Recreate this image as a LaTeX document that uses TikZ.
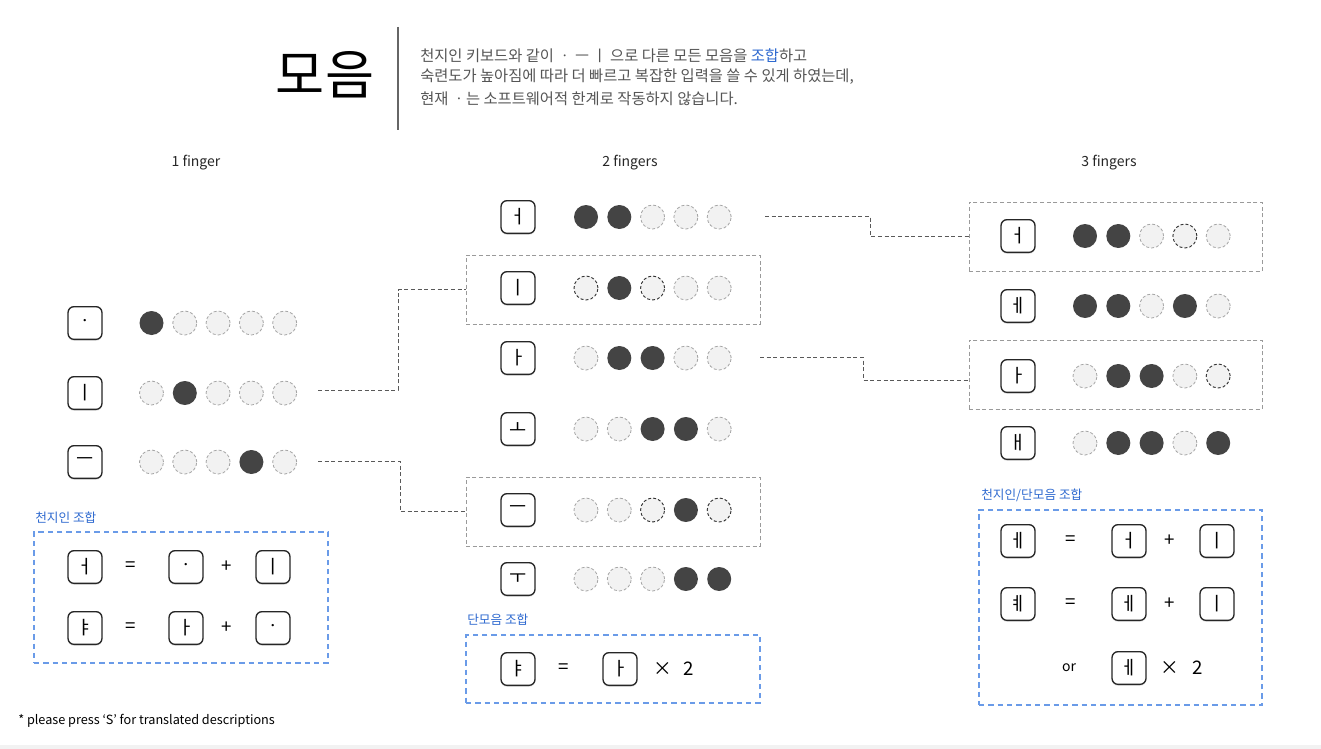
\documentclass[tikz,border=0pt]{standalone}
\usepackage{fontspec}
\setmainfont{Noto Sans CJK KR}
\usetikzlibrary{fit,shadows}
\definecolor{txtgray}{HTML}{555555}
\definecolor{kblue}{HTML}{2F6AD0}
\definecolor{bblue}{HTML}{6A9BE8}
\definecolor{dotdark}{HTML}{444444}
\definecolor{dotlight}{HTML}{F2F2F2}
\definecolor{dashgray}{HTML}{A5A5A5}
\definecolor{boxgray}{HTML}{9A9A9A}
\newcommand\fsz[1]{\fontsize{#1}{#1}\selectfont}
\newcommand\dotrow[4]{\foreach \s [count=\i] in {#4} {\node[dot\s] (#1-\i) at ({#2+(\i-1)*33.3},#3) {};}}
\tikzset{
  key/.style={draw=black!85, line width=1pt, rounded corners=4.5pt, fill=white,
    minimum width=25.5pt, minimum height=24.5pt, inner sep=0pt, font=\fsz{14},
    drop shadow={opacity=0.18, shadow xshift=0pt, shadow yshift=-1.2pt}},
  dotbase/.style={circle, minimum size=18pt, inner sep=0pt},
  dotf/.style={dotbase, fill=dotdark},
  dote/.style={dotbase, fill=dotlight, draw=dashgray, line width=0.6pt, dash pattern=on 2.2pt off 1.6pt},
  dotd/.style={dotbase, fill=dotlight, draw=black!80, line width=0.7pt, dash pattern=on 2.2pt off 1.6pt},
  graybox/.style={draw=boxgray, line width=0.7pt, dash pattern=on 3pt off 2pt, inner sep=0pt},
  bluebox/.style={draw=bblue, line width=1.1pt, dash pattern=on 4pt off 3pt, inner sep=0pt},
  conn/.style={draw=black!65, line width=0.7pt, dash pattern=on 3pt off 2pt},
  bluelbl/.style={text=kblue, font=\fsz{9.5}, anchor=west, inner sep=0pt},
  op/.style={font=\fsz{14}, inner sep=0pt},
  num/.style={font=\fsz{14}, inner sep=0pt},
  hdr/.style={font=\fsz{10.5}, text=black!85, inner sep=0pt},
  para/.style={font=\fsz{11.5}, text=txtgray, anchor=west, inner sep=0pt},
}
\begin{document}
\begin{tikzpicture}[x=0.75pt,y=-0.75pt]
\useasboundingbox (0,0) rectangle (1321,749);
\fill[white] (0,0) rectangle (1321,749);
\fill[black!5] (0,745) rectangle (1321,749);

% header
\node[font=\fsz{40}, inner sep=0pt] (title) at (325,75) {모음};
\draw[black!60, line width=0.8pt] (398,27) -- (398,130);
\node[para] (p1) at (420,56) {천지인 키보드와 같이 ㆍ ㅡ ㅣ 으로 다른 모든 모음을 \textcolor{kblue}{조합}하고};
\node[para] (p2) at (420,77) {숙련도가 높아짐에 따라 더 빠르고 복잡한 입력을 쓸 수 있게 하였는데,};
\node[para] (p3) at (420,99) {현재 ㆍ는 소프트웨어적 한계로 작동하지 않습니다.};

% column headings
\node[hdr] (h1) at (196,163) {1 finger};
\node[hdr] (h2) at (630,163) {2 fingers};
\node[hdr] (h3) at (1109,163) {3 fingers};

% gray highlight boxes
\node[graybox, fit={(466,255) (760,324)}] (b2) {};
\node[graybox, fit={(466,477) (760,546)}] (b5) {};
\node[graybox, fit={(969,202) (1262,271)}] (r1) {};
\node[graybox, fit={(969,340) (1262,409)}] (r3) {};

% blue combination boxes
\node[bluelbl] (la) at (35,518) {천지인 조합};
\node[bluebox, fit={(34,532) (328,663)}] (ba) {};
\node[bluelbl] (lb) at (467,620) {단모음 조합};
\node[bluebox, fit={(466,635) (760,703)}] (bb) {};
\node[bluelbl] (lc) at (981,495) {천지인/단모음 조합};
\node[bluebox, fit={(979,510) (1262,705)}] (bc) {};

% 1 finger
\node[key] (k11) at (85,323) {ㆍ};
\node[key] (k12) at (85,393) {ㅣ};
\node[key] (k13) at (85,462) {ㅡ};
\dotrow{a1}{151.5}{323}{f,e,e,e,e}
\dotrow{a2}{151.5}{393}{e,f,e,e,e}
\dotrow{a3}{151.5}{462}{e,e,e,f,e}

% 2 fingers
\node[key] (k21) at (518,217) {ㅓ};
\node[key] (k22) at (518,288) {ㅣ};
\node[key] (k23) at (518,358) {ㅏ};
\node[key] (k24) at (518,429) {ㅗ};
\node[key] (k25) at (518,510) {ㅡ};
\node[key] (k26) at (518,579) {ㅜ};
\dotrow{m1}{586}{217}{f,f,e,e,e}
\dotrow{m2}{586}{288}{d,f,d,e,e}
\dotrow{m3}{586}{358}{e,f,f,e,e}
\dotrow{m4}{586}{429}{e,e,f,f,e}
\dotrow{m5}{586}{510}{e,e,d,f,d}
\dotrow{m6}{586}{579}{e,e,e,f,f}

% 3 fingers
\node[key] (k31) at (1018,236) {ㅓ};
\node[key] (k32) at (1018,306) {ㅔ};
\node[key] (k33) at (1018,376) {ㅏ};
\node[key] (k34) at (1018,443) {ㅐ};
\dotrow{r1d}{1085}{236}{f,f,e,d,e}
\dotrow{r2d}{1085}{306}{f,f,e,f,e}
\dotrow{r3d}{1085}{376}{e,f,f,e,d}
\dotrow{r4d}{1085}{443}{e,f,f,e,f}

% connectors
\coordinate (c1) at (318,390);
\coordinate (c2) at (318,461);
\coordinate (c3) at (765,216);
\coordinate (c4) at (760,357);
\draw[conn] (c1) -- (398,390) |- (b2.west);
\draw[conn] (c2) -- (400,461) |- (b5.west);
\draw[conn] (c3) -- (870,216) |- (r1.west);
\draw[conn] (c4) -- (863,357) -- (863,380) -- (r3.west |- {(0,380)});

% box A
\node[key] (a11) at (85,567) {ㅓ};
\node[op] (a12) at (131,567) {=};
\node[key] (a13) at (186,567) {ㆍ};
\node[op] (a14) at (227,567) {+};
\node[key] (a15) at (273,567) {ㅣ};
\node[key] (a21) at (85,628) {ㅑ};
\node[op] (a22) at (131,628) {=};
\node[key] (a23) at (186,628) {ㅏ};
\node[op] (a24) at (227,628) {+};
\node[key] (a25) at (273,628) {ㆍ};

% box B
\node[key] (b11) at (518,669) {ㅑ};
\node[op] (b12) at (564,669) {=};
\node[key] (b13) at (620,669) {ㅏ};
\node[op] (b14) at (663,669) {×};
\node[num] (b15) at (689,669) {2};

% box C
\node[key] (c11) at (1018,541) {ㅔ};
\node[op] (c12) at (1071,541) {=};
\node[key] (c13) at (1129,541) {ㅓ};
\node[op] (c14) at (1170,541) {+};
\node[key] (c15) at (1217,541) {ㅣ};
\node[key] (c21) at (1018,604) {ㅖ};
\node[op] (c22) at (1071,604) {=};
\node[key] (c23) at (1129,604) {ㅔ};
\node[op] (c24) at (1170,604) {+};
\node[key] (c25) at (1217,604) {ㅣ};
\node[font=\fsz{10.5}, inner sep=0pt] (c31) at (1069,668) {or};
\node[key] (c33) at (1129,668) {ㅔ};
\node[op] (c34) at (1170,668) {×};
\node[num] (c35) at (1198,668) {2};

% footer
\node[font=\fsz{9.5}, anchor=west, inner sep=0pt] (foot) at (18,721) {* please press ‘S’ for translated descriptions};
\end{tikzpicture}
\end{document}
